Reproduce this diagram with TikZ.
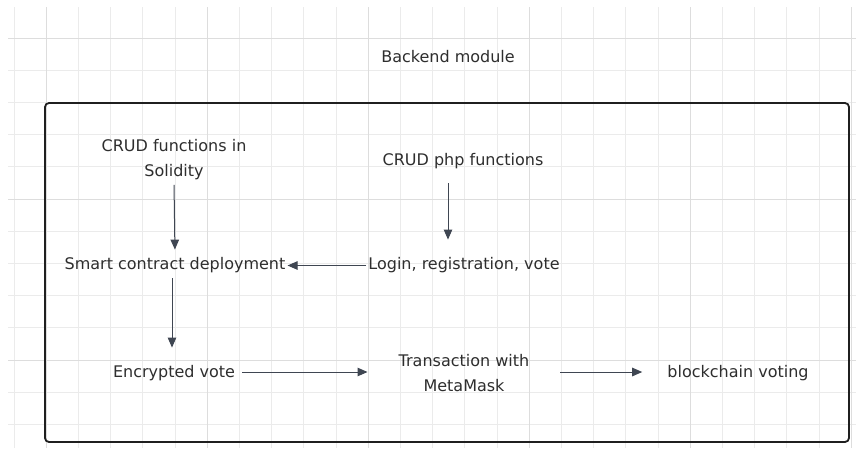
\documentclass[tikz,border=0pt]{standalone}
\usepackage{fontspec}
\setmainfont{DejaVu Sans}
\usetikzlibrary{arrows.meta}
\definecolor{gridminor}{HTML}{EBEBEB}
\definecolor{gridmajor}{HTML}{DDDDDD}
\definecolor{framec}{HTML}{1F1F1F}
\definecolor{arrowc}{HTML}{3F4652}
\definecolor{textc}{HTML}{2E2E2E}
\begin{document}
\begin{tikzpicture}[x=1pt,y=-1pt,
  lbl/.style={font=\fontsize{16}{25}\selectfont, text=textc, align=center, inner sep=2pt},
  flow/.style={draw=arrowc, line width=1pt, -{Triangle[length=10pt,width=8.5pt]}},
]
% canvas
\fill[white] (0,0) rectangle (856,448);
\useasboundingbox (0,0) rectangle (856,448);

% background grid
\begin{scope}
  \clip (8,7) rectangle (856,448);
  \foreach \i in {0,...,26}
    \draw[gridminor, line width=0.8pt] ({14+\i*32.2},0) -- ++(0,448);
  \foreach \j in {0,...,13}
    \draw[gridminor, line width=0.8pt] (0,{5.8+\j*32.2}) -- ++(856,0);
  \foreach \i in {1,6,11,16,21,26}
    \draw[gridmajor, line width=0.8pt] ({14+\i*32.2},0) -- ++(0,448);
  \foreach \j in {1,6,11}
    \draw[gridmajor, line width=0.8pt] (0,{5.8+\j*32.2}) -- ++(856,0);
\end{scope}

% module frame
\draw[framec, line width=1.8pt, rounded corners=4pt] (45,103) rectangle (849,442);

% labels
\node[lbl] (title) at (448,56.5) {Backend module};
\node[lbl] (sol)   at (174,159.5) {CRUD functions in\\Solidity};
\node[lbl] (php)   at (463,161.5) {CRUD php functions};
\node[lbl] (scd)   at (175,265.5) {Smart contract deployment};
\node[lbl] (login) at (464,265.5) {Login, registration, vote};
\node[lbl] (enc)   at (174,373.5) {Encrypted vote};
\node[lbl] (tx)    at (464,373.5) {Transaction with\\MetaMask};
\node[lbl] (bc)    at (738,373.5) {blockchain voting};

% connectors
\draw[flow, shorten <=3pt, shorten >=6pt] (sol.south) -- (scd.north);
\draw[flow, shorten <=12pt, shorten >=16pt] ([xshift=-15pt]php.south) -- ([xshift=-16pt]login.north);
\draw[flow] (login.west) -- (login.west -| scd.east);
\draw[flow, shorten <=3pt, shorten >=16pt] ([xshift=-3pt]scd.south) -- ([xshift=-2pt]enc.north);
\draw[flow, shorten <=5pt, shorten >=29pt] ([yshift=1.5pt]enc.east) -- ([yshift=1.5pt]enc.east -| tx.west);
\draw[flow, shorten <=29pt, shorten >=23pt] ([yshift=1.5pt]bc.west -| tx.east) -- ([yshift=1.5pt]bc.west);
\end{tikzpicture}
\end{document}
